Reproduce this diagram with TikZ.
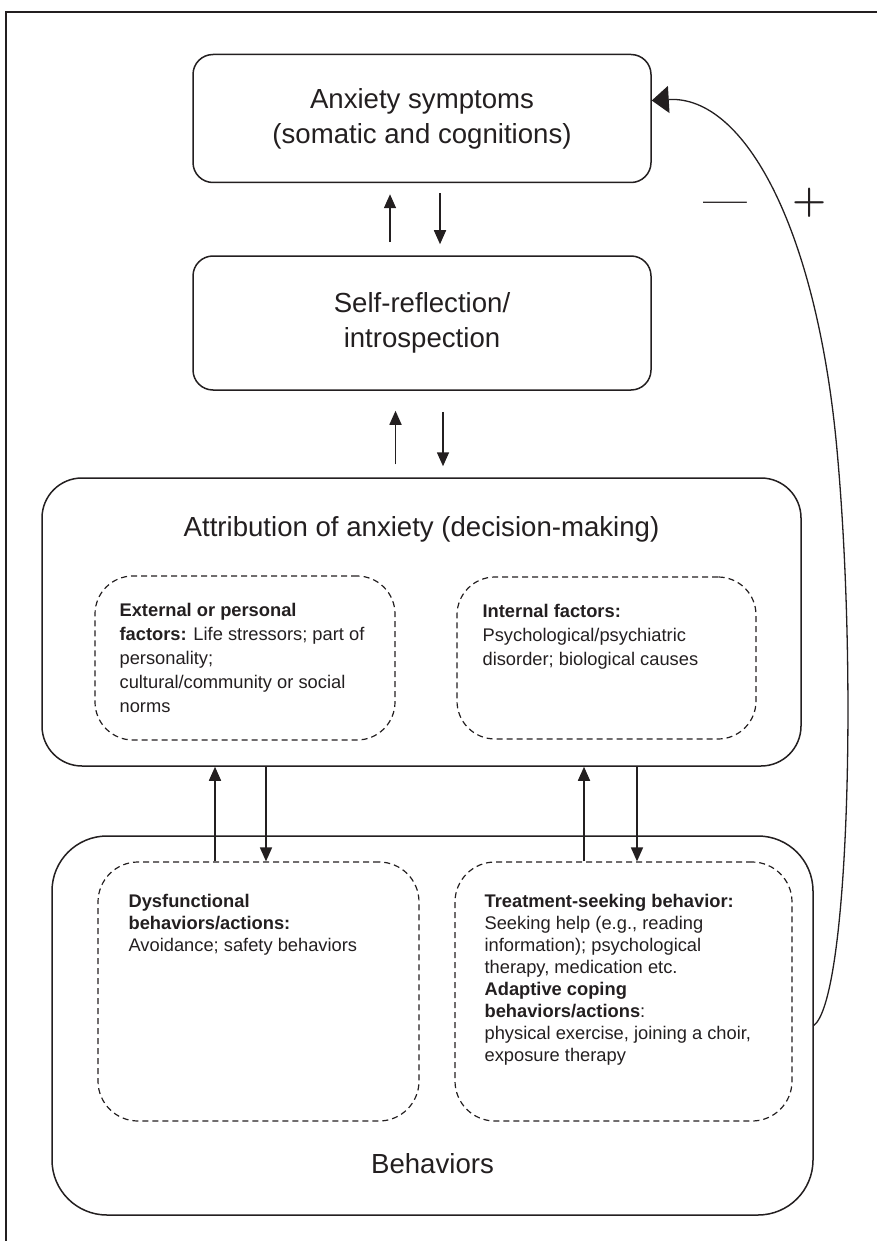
\documentclass[tikz,border=0pt]{standalone}
\usepackage{fontspec}
\newfontfamily\arialf{Liberation Sans}
\usetikzlibrary{arrows.meta}
\definecolor{ink}{HTML}{231F20}
\begin{document}
\begin{tikzpicture}[x=1pt,y=-1pt,
  solidbox/.style={draw=ink, line width=1.5pt, rounded corners=#1, inner sep=0pt, align=center,
    font=\arialf\fontsize{27.6}{35}\selectfont, text=ink},
  dashbox/.style={draw=ink, line width=1.2pt, dash pattern=on 6pt off 4pt, rounded corners=#1, inner sep=0pt},
  title/.style={inner sep=0pt, anchor=base, font=\arialf\fontsize{27.6}{35}\selectfont, text=ink},
  smalltop/.style={inner sep=0pt, anchor=north west, align=left, text=ink,
    font=\arialf\fontsize{18.3}{24}\selectfont},
  smallbot/.style={inner sep=0pt, anchor=north west, align=left, text=ink,
    font=\arialf\fontsize{18.3}{22}\selectfont},
  arr/.style={draw=ink, line width=1.6pt, -{Triangle[length=14pt,width=12pt]}},
  bigarr/.style={draw=ink, line width=1.3pt, -{Triangle[length=17pt,width=27pt]}},
  sign/.style={inner sep=0pt, text=ink, font=\bfseries\fontsize{39}{39}\selectfont}
]
\useasboundingbox (0,0) rectangle (877,1241);
% frame
\draw[ink, line width=1.2pt] (6,1241) -- (6,12) -- (877,12);

% main boxes
\node[solidbox=20pt, minimum width=458pt, minimum height=128pt] (b1) at (422,118.5)
  {Anxiety symptoms\\(somatic and cognitions)};
\node[solidbox=20pt, minimum width=458pt, minimum height=134pt] (b2) at (422,323)
  {Self-reflection/\\introspection};
\node[solidbox=40pt, minimum width=759pt, minimum height=288pt] (b3) at (421.5,622) {};
\node[solidbox=55pt, minimum width=761pt, minimum height=379pt] (b4) at (432.5,1025.5) {};

\node[title] (t3) at ([yshift=-59pt]b3.north) {Attribution of anxiety (decision-making)};
\node[title] (t4) at ([yshift=42pt]b4.south) {Behaviors};

% dashed boxes
\node[dashbox=38pt, minimum width=300pt, minimum height=164pt] (dA) at (245,658) {};
\node[dashbox=38pt, minimum width=299pt, minimum height=162pt] (dB) at (606.5,658) {};
\node[dashbox=40pt, minimum width=321pt, minimum height=259pt] (dC) at (258.5,991.5) {};
\node[dashbox=40pt, minimum width=337pt, minimum height=259pt] (dD) at (623.5,991.5) {};

\node[smalltop] (tA) at ([xshift=25pt,yshift=-27.6pt]dA.north west)
  {\textbf{External or personal}\\\textbf{factors:} Life stressors; part of\\personality;\\cultural/community or social\\norms};
\node[smalltop] (tB) at ([xshift=26pt,yshift=-27.6pt]dB.north west)
  {\textbf{Internal factors:}\\Psychological/psychiatric\\disorder; biological causes};
\node[smallbot] (tC) at ([xshift=31pt,yshift=-32.6pt]dC.north west)
  {\textbf{Dysfunctional}\\\textbf{behaviors/actions:}\\Avoidance; safety behaviors};
\node[smallbot] (tD) at ([xshift=30pt,yshift=-32.6pt]dD.north west)
  {\textbf{Treatment-seeking behavior:}\\Seeking help (e.g., reading\\information); psychological\\therapy, medication etc.\\\textbf{Adaptive coping}\\\textbf{behaviors/actions}:\\physical exercise, joining a choir,\\exposure therapy};

% arrows b1 <-> b2
\draw[arr, shorten <=13pt, shorten >=11pt] ([xshift=-32pt]b2.north) -- ([xshift=-32pt]b2.north |- b1.south);
\draw[arr, shorten <=10pt, shorten >=11pt] ([xshift=18pt]b1.south) -- ([xshift=18pt]b1.south |- b2.north);
% arrows b2 <-> b3
\draw[arr, shorten <=13pt, shorten >=20pt] ([xshift=-26pt]b3.north) -- ([xshift=-26pt]b3.north |- b2.south);
\draw[arr, shorten <=21pt, shorten >=11pt] ([xshift=21pt]b2.south) -- ([xshift=21pt]b2.south |- b3.north);
% arrows b3 <-> behaviours
\draw[arr] ([xshift=-43.5pt]dC.north) -- ([xshift=-43.5pt]dC.north |- b3.south);
\draw[arr] ([xshift=7.5pt]dC.north |- b3.south) -- ([xshift=7.5pt]dC.north);
\draw[arr] ([xshift=-39.5pt]dD.north) -- ([xshift=-39.5pt]dD.north |- b3.south);
\draw[arr] ([xshift=13.5pt]dD.north |- b3.south) -- ([xshift=13.5pt]dD.north);

% feedback curve
\draw[bigarr] (b4.east) .. controls (848,1000) and (858,680) .. (837,450)
  .. controls (817,230) and (745,95) .. ([yshift=18pt]b1.east);
\node[sign] (minus) at (725,208) {—};
\node[sign] (plus) at (810,203) {+};
\end{tikzpicture}
\end{document}
